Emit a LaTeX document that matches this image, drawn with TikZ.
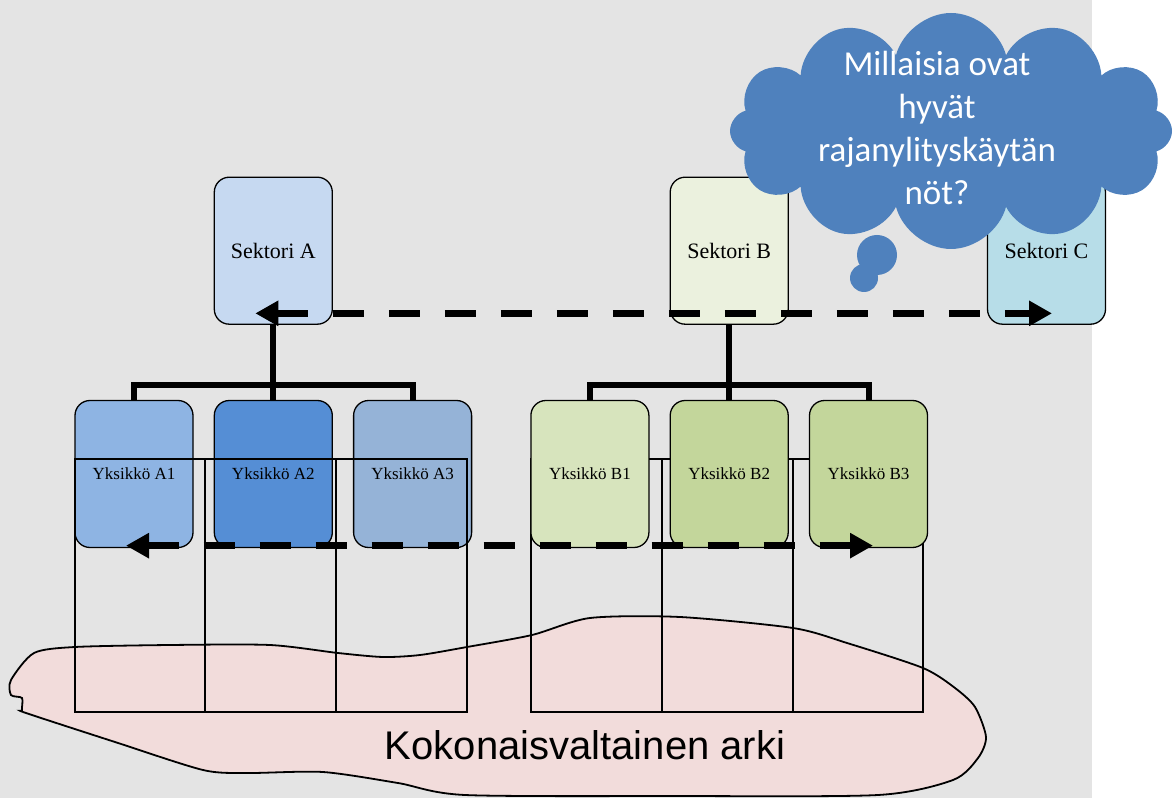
\documentclass[tikz,border=0pt]{standalone}
\usepackage{fontspec}
\setmainfont{Liberation Serif}
\newfontfamily\arialfont{Liberation Sans}
\newfontfamily\calibrifont{Carlito}
\usetikzlibrary{positioning, arrows.meta, shapes.symbols}
\definecolor{bggray}{RGB}{228,228,228}
\definecolor{sekAfill}{HTML}{C6D9F1}
\definecolor{sekBfill}{HTML}{EBF1DE}
\definecolor{sekCfill}{HTML}{B7DDE8}
\definecolor{unitA1}{HTML}{8EB4E3}
\definecolor{unitA2}{HTML}{558ED5}
\definecolor{unitA3}{HTML}{95B3D7}
\definecolor{unitB1}{HTML}{D7E4BD}
\definecolor{unitB2}{HTML}{C3D69B}
\definecolor{blobpink}{HTML}{F2DCDB}
\definecolor{cloudblue}{HTML}{4F81BD}
\tikzset{
  x=1pt, y=1pt, % one unit is one point (= one pixel of the picture)
  node distance=20pt, % gap between neighbouring unit boxes
  box/.style={draw, line width=1.3pt, rounded corners=15pt, minimum width=118pt, minimum height=147pt, inner sep=0pt},
  sector/.style={box, font=\fontsize{22}{25}\selectfont},
  unit/.style={box, font=\fontsize{17}{20}\selectfont},
  link/.style={line width=6pt}, % the tree lines
  flow/.style={<->, >={Triangle[length=23pt,width=24pt]}, line width=7.5pt, dash pattern=on 31pt off 25pt},
  thin line/.style={line width=1.8pt},
  puff/.style={circle, fill=cloudblue, inner sep=0pt},
}
\begin{document}
\begin{tikzpicture}
  \useasboundingbox (0,0) rectangle (1174,798);
  \fill[bggray] (0,0) rectangle (1092,798);

  % everyday life
  \draw[thin line, fill=blobpink] plot[smooth cycle, tension=0.45] coordinates {
    (11,118) (34,145) (75,151) (170,153) (270,153) (338,145) (383,141) (420,143)
    (467,151) (532,163) (590,180) (680,181) (793,170) (847,155) (923,130) (955,110)
    (975,91) (986,61) (978,40) (953,18) (878,3) (675,2) (465,3) (398,15) (323,26)
    (248,25) (203,28) (115,56) (26,85) (22,88) (22,100) (11,103)};
  \node[font=\arialfont\fontsize{40}{46}\selectfont] (arki) at (585,53) {Kokonaisvaltainen arki};

  % columns under the B units
  \draw[thin line] (531,86) rectangle (923,339) (662,86) -- (662,339) (793,86) -- (793,339);

  \node[unit, fill=unitA1]                   (yA1) at (134,324) {Yksikkö A1};
  \node[unit, fill=unitA2, right=of yA1]     (yA2) {Yksikkö A2};
  \node[unit, fill=unitA3, right=of yA2]     (yA3) {Yksikkö A3};
  \node[unit, fill=unitB1, right=58pt of yA3] (yB1) {Yksikkö B1};
  \node[unit, fill=unitB2, right=of yB1]     (yB2) {Yksikkö B2};
  \node[unit, fill=unitB2, right=of yB2]     (yB3) {Yksikkö B3};

  \node[sector, fill=sekAfill, above=75pt of yA2]  (sekA) {Sektori A};
  \node[sector, fill=sekBfill, above=75pt of yB2]  (sekB) {Sektori B};
  \node[sector, fill=sekCfill, right=198pt of sekB] (sekC) {Sektori C};

  \draw[link] (sekA) -- (yA2);
  \draw[link] (yA1.north) |- ([yshift=15pt]yA2.north) -| (yA3.north);
  \draw[link] (sekB) -- (yB2);
  \draw[link] (yB1.north) |- ([yshift=15pt]yB2.north) -| (yB3.north);

  % columns over the A units
  \draw[thin line] (75,86) rectangle (467,339) (205,86) -- (205,339) (336,86) -- (336,339);

  \coordinate (tipA)  at ([shift={(-18pt,11.5pt)}]sekA.south);
  \coordinate (tipC)  at ([shift={(5.5pt,11.5pt)}]sekC.south);
  \coordinate (tipA1) at ([shift={(-8pt,2.5pt)}]yA1.south);
  \coordinate (tipB3) at ([shift={(4.5pt,2.5pt)}]yB3.south);
  \draw[flow] (tipA) -- (tipC);
  \draw[flow] (tipA1) -- (tipB3);

  % thought cloud
  \node[cloud, fill=cloudblue, cloud puffs=12, aspect=1.8, minimum width=442pt, minimum height=236pt] (pilvi) at (951,667) {};
  \node[puff, minimum size=40pt] (puff1) at (877,543) {};
  \node[puff, minimum size=28pt] (puff2) at (864,520) {};
  \node[align=center, text=white, font=\calibrifont\fontsize{35}{43}\selectfont] (kysymys) at (937,670)
    {Millaisia ovat\\hyvät\\rajanylityskäytän\\nöt?};
\end{tikzpicture}
\end{document}
